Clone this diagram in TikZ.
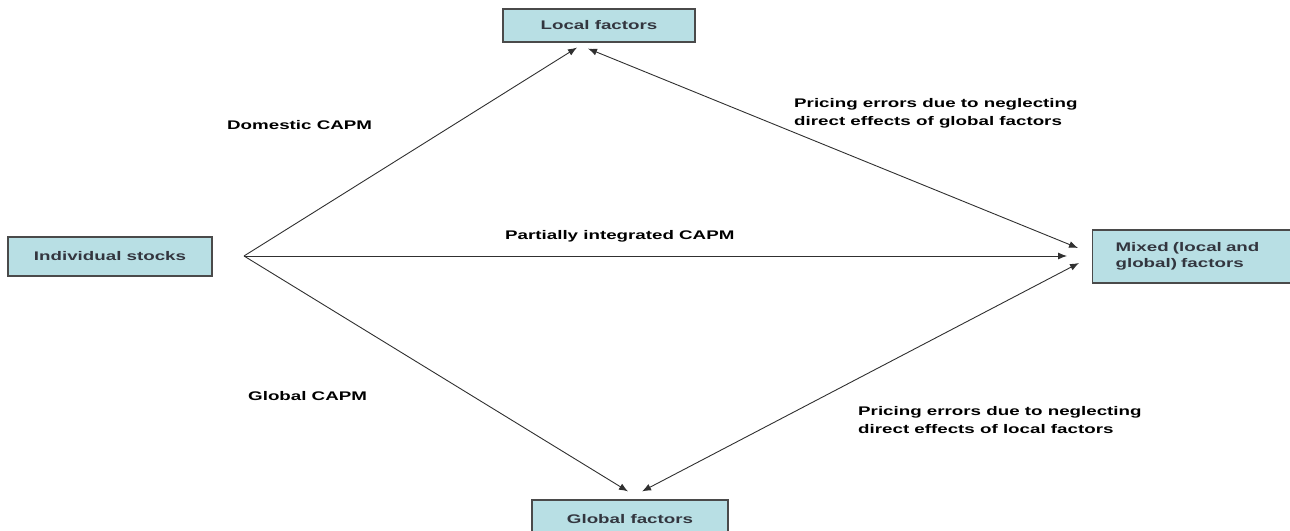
\documentclass[tikz,border=0pt]{standalone}
\usepackage{fontspec}
\setmainfont{Liberation Sans}[FakeStretch=1.5]
\usetikzlibrary{arrows.meta,positioning,calc}
\definecolor{boxfill}{HTML}{B8DFE4}
\definecolor{boxline}{HTML}{4A4A4A}
\definecolor{boxtext}{HTML}{33363F}
\definecolor{arrline}{HTML}{303030}
\tikzset{
  box/.style   = {draw=boxline, line width=1.2pt, fill=boxfill, align=center,
                  text=boxtext, font=\fontsize{12.5}{16}\selectfont\bfseries,
                  inner sep=3pt},
  lab/.style   = {font=\fontsize{12.5}{18}\selectfont\bfseries, align=left,
                  anchor=west, inner sep=0pt},
  arr/.style   = {-{Latex[length=9pt,width=7pt]}, draw=arrline, line width=0.9pt},
  darr/.style  = {{Latex[length=9pt,width=7pt]}-{Latex[length=9pt,width=7pt]},
                  draw=arrline, line width=0.9pt},
}
\begin{document}
\begin{tikzpicture}[x=1pt, y=1pt]
  \useasboundingbox (0,0) rectangle (1290,530);
  \node[box, minimum width=192pt, minimum height=33pt] (local) at (599,504.5) {Local factors};
  \node[box, minimum width=204pt, minimum height=39pt] (stocks) at (110,273.5) {Individual stocks};
  \node[box, minimum width=198pt, minimum height=53pt, text width=152pt,
        inner xsep=23pt, align=left, anchor=west] (mixed) at (1092,273.5)
        {Mixed (local and\\global) factors};
  \node[box, minimum width=196pt, minimum height=38pt] (global) at (630,11) {Global factors};
  \coordinate (src) at (244,274);
  % connectors
  \draw[arr] (src) -- ([shift={(-22pt,-5pt)}]local.south);
  \draw[arr] (src) -- ([shift={(-25pt,0.5pt)}]mixed.west);
  \draw[arr] (src) -- ([shift={(-2pt,8pt)}]global.north);
  \draw[darr] ([shift={(-11pt,-6pt)}]local.south) -- ([shift={(-14pt,8.5pt)}]mixed.west);
  \draw[darr] ([shift={(12pt,8pt)}]global.north) -- ([shift={(-13pt,-6.5pt)}]mixed.west);
  % labels
  \node[lab] (domestic) at (227,405) {Domestic CAPM};
  \node[lab] (partial) at (505,294) {Partially integrated CAPM};
  \node[lab] (globalcapm) at (248,134) {Global CAPM};
  \node[lab] (errglobal) at (794,417) {Pricing errors due to neglecting\\direct effects of global factors};
  \node[lab] (errlocal) at (858,110) {Pricing errors due to neglecting\\direct effects of local factors};
\end{tikzpicture}
\end{document}
